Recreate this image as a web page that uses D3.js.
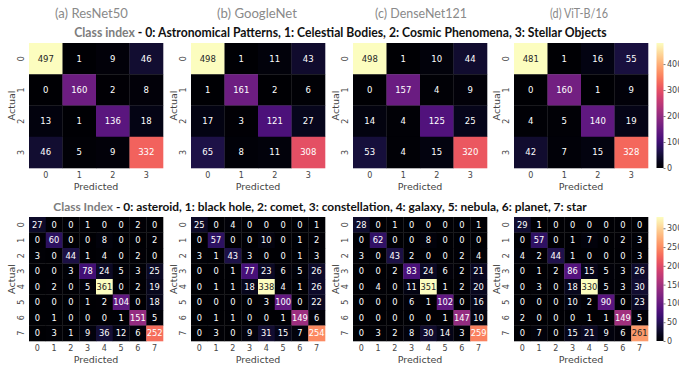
<!DOCTYPE html>
<html><head><meta charset="utf-8">
<script src="https://cdn.jsdelivr.net/npm/d3@7"></script>
<style>body{margin:0;background:#fff}svg{display:block}</style>
</head><body>
<svg id="c" width="679" height="369"></svg>
<script>
const models = ["(a) ResNet50", "(b) GoogleNet", "(c) DenseNet121", "(d) ViT-B/16"];
const topClasses = ["0","1","2","3"];
const bottomClasses = ["0","1","2","3","4","5","6","7"];
const topTitleGray = "Class index";
const topTitleRest = " - 0: Astronomical Patterns, 1: Celestial Bodies, 2: Cosmic Phenomena, 3: Stellar Objects";
const bottomTitleGray = "Class Index";
const bottomTitleRest = " - 0: asteroid, 1: black hole, 2: comet, 3: constellation, 4: galaxy, 5: nebula, 6: planet, 7: star";

const topResNet = [[497,1,9,46],[0,160,2,8],[13,1,136,18],[46,5,9,332]];
const topGoogleNet = [[498,1,11,43],[1,161,2,6],[17,3,121,27],[65,8,11,308]];
const topDenseNet = [[498,1,10,44],[0,157,4,9],[14,4,125,25],[53,4,15,320]];
const topViT = [[481,1,16,55],[0,160,1,9],[4,5,140,19],[42,7,15,328]];

const botResNet = [
 [27,0,0,1,0,0,2,0],[0,60,0,0,8,0,0,2],[3,0,44,1,4,0,2,0],[0,0,3,78,24,5,3,25],
 [0,2,0,5,361,0,2,19],[0,0,0,1,2,104,0,18],[0,1,0,0,0,1,151,5],[0,3,1,9,36,12,6,252]];
const botGoogleNet = [
 [25,0,4,0,0,0,0,1],[0,57,0,0,10,0,1,2],[3,1,43,3,0,0,1,3],[0,0,1,77,23,6,5,26],
 [0,1,1,18,338,4,1,26],[0,0,0,0,3,100,0,22],[0,1,1,0,0,1,149,6],[0,3,0,9,31,15,7,254]];
const botDenseNet = [
 [28,0,1,0,0,0,0,1],[0,62,0,0,8,0,0,0],[3,0,43,2,0,0,2,4],[0,0,2,83,24,6,2,21],
 [0,4,0,11,351,1,2,20],[0,0,0,6,1,102,0,16],[0,0,0,0,0,1,147,10],[0,3,2,8,30,14,3,259]];
const botViT = [
 [29,1,0,0,0,0,0,0],[0,57,0,1,7,0,2,3],[4,2,44,1,0,0,0,3],[0,1,2,86,15,5,3,26],
 [0,3,0,18,330,5,3,30],[0,0,0,10,2,90,0,23],[2,0,0,0,1,1,149,5],[0,7,0,15,21,9,6,261]];

const topCbTicks = [0,100,200,300,400];
const botCbTicks = [0,50,100,150,200,250,300];

const svg = d3.select("#c");
const lefts = [29, 191, 353, 514];
const mW = 134;
const rows = [
  {mats:[topResNet, topGoogleNet, topDenseNet, topViT], cls: topClasses, y0:43, h:125, fs:8.5, cbTicks: topCbTicks},
  {mats:[botResNet, botGoogleNet, botDenseNet, botViT], cls: bottomClasses, y0:217, h:124, fs:8.3, cbTicks: botCbTicks}
];
const textDark = "#262626";
function lum(c){
  const r = d3.rgb(c);
  const f = v => { v/=255; return v <= 0.03928 ? v/12.92 : Math.pow((v+0.055)/1.055, 2.4); };
  return 0.2126*f(r.r)+0.7152*f(r.g)+0.0722*f(r.b);
}
const defs = svg.append("defs");
const gradStops = d3.range(0, 1.0001, 0.05);

rows.forEach((row, ri) => {
  let lastExt;
  row.mats.forEach((m, mi) => {
    const flat = m.flat();
    const ext = d3.extent(flat);
    lastExt = ext;
    const color = d3.scaleSequential(d3.interpolateMagma).domain(ext);
    const x = d3.scaleBand().domain(row.cls).range([lefts[mi], lefts[mi]+mW]);
    const y = d3.scaleBand().domain(row.cls).range([row.y0, row.y0+row.h]);
    const g = svg.append("g");
    const cells = [];
    m.forEach((r, i) => r.forEach((v, j) => cells.push({i, j, v})));
    g.selectAll("rect").data(cells).join("rect")
      .attr("x", d => x(row.cls[d.j])).attr("y", d => y(row.cls[d.i]))
      .attr("width", x.bandwidth()+0.3).attr("height", y.bandwidth()+0.3)
      .attr("fill", d => color(d.v));
    g.selectAll("text.v").data(cells).join("text").attr("class","v")
      .attr("x", d => x(row.cls[d.j]) + x.bandwidth()/2)
      .attr("y", d => y(row.cls[d.i]) + y.bandwidth()/2)
      .attr("dy", "0.36em").attr("text-anchor","middle")
      .style("font-family","DejaVu Sans").style("font-size", row.fs+"px")
      .attr("fill", d => lum(color(d.v)) > 0.408 ? textDark : "#ffffff")
      .text(d => d.v);
    // axes
    const xb = row.y0 + row.h;
    const xa = svg.append("g").attr("transform", `translate(0,${xb})`)
      .call(d3.axisBottom(x).tickSize(0).tickPadding(4.5));
    xa.select(".domain").remove();
    xa.selectAll("text").style("font-family","DejaVu Sans").style("font-size","8px").attr("fill","#444");
    const ya = svg.append("g").attr("transform", `translate(${lefts[mi]},0)`)
      .call(d3.axisLeft(y).tickSize(0).tickPadding(0));
    ya.select(".domain").remove();
    ya.selectAll(".tick text")
      .attr("x", 0).attr("dy", 0)
      .attr("transform", "translate(-5,0) rotate(-90)")
      .attr("text-anchor","middle")
      .style("font-family","DejaVu Sans").style("font-size","8px").attr("fill","#444");
    svg.append("text").attr("x", lefts[mi]+mW/2).attr("y", xb+21.5)
      .attr("text-anchor","middle").style("font-family","DejaVu Sans").style("font-size","9.5px")
      .attr("fill","#444").text("Predicted");
    svg.append("text").attr("transform", `translate(${lefts[mi]-14.5},${row.y0+row.h/2}) rotate(-90)`)
      .attr("text-anchor","middle").style("font-family","DejaVu Sans").style("font-size","9.5px")
      .attr("fill","#444").text("Actual");
  });
  // colorbar
  const gid = "cb"+ri;
  const lg = defs.append("linearGradient").attr("id", gid).attr("x1",0).attr("y1",1).attr("x2",0).attr("y2",0);
  lg.selectAll("stop").data(gradStops).join("stop")
    .attr("offset", d => d).attr("stop-color", d => d3.interpolateMagma(d));
  const cbx = 656.5, cbw = 7;
  svg.append("rect").attr("x", cbx).attr("y", row.y0).attr("width", cbw).attr("height", row.h)
    .attr("fill", `url(#${gid})`);
  const cs = d3.scaleLinear().domain(lastExt).range([row.y0+row.h, row.y0]);
  const ca = svg.append("g").attr("transform", `translate(${cbx+cbw},0)`)
    .call(d3.axisRight(cs).tickValues(row.cbTicks).tickSize(2).tickPadding(1.5));
  ca.select(".domain").remove();
  ca.selectAll("line").attr("stroke","#444").attr("stroke-width",0.7);
  ca.selectAll("text").style("font-family","DejaVu Sans").style("font-size","8px").attr("fill","#444");
});

// titles
function fitText(sel, cx, target){
  const w = sel.node().getComputedTextLength();
  const s = target / w;
  sel.attr("transform", `translate(${cx},0) scale(${s},1) translate(${-cx},0)`);
}
const subCenters = [91.5, 257, 421, 579];
const subWidths = [73, 80, 92, 58];
models.forEach((m, i) => {
  const t = svg.append("text").attr("x", subCenters[i]).attr("y", 18)
    .attr("text-anchor","middle").style("font-family","Lato").style("font-size","13px")
    .attr("fill","#8a8a8a").text(m);
  fitText(t, subCenters[i], subWidths[i]);
});
function classTitle(gray, rest, cx, y, fs, width){
  const t = svg.append("text").attr("x", cx).attr("y", y).attr("text-anchor","middle")
    .style("font-family","Lato").style("font-size", fs+"px").style("font-weight","bold");
  t.append("tspan").attr("fill","#7d7d7d").text(gray);
  t.append("tspan").attr("fill","#111").text(rest);
  fitText(t, cx, width);
}
classTitle(topTitleGray, topTitleRest, 340.5, 36.7, 14, 533);
classTitle(bottomTitleGray, bottomTitleRest, 320, 210.7, 11.5, 534);
</script>
</body></html>
